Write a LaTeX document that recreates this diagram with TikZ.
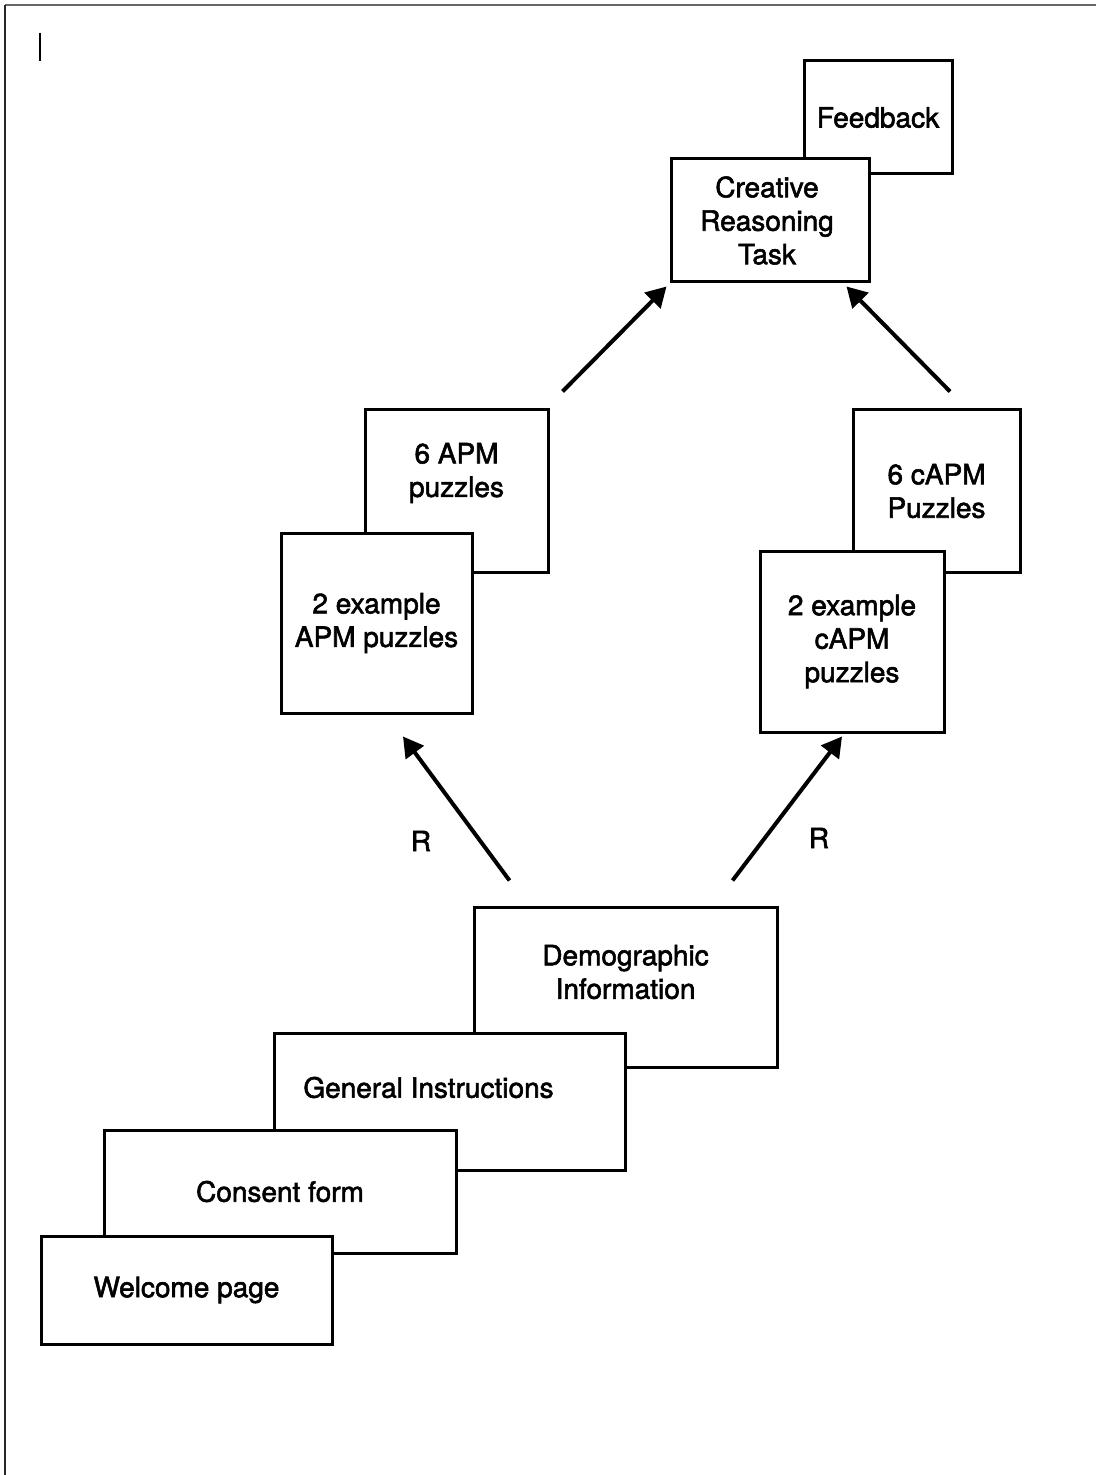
\documentclass[tikz,border=0pt]{standalone}
\usepackage{fontspec}
\setmainfont{TeX Gyre Heros}[FakeBold=2]
\usepackage{tikz}
\usetikzlibrary{arrows.meta, calc}

\begin{document}
\begin{tikzpicture}[
    x=0.5pt, y=-0.5pt,
    page/.style={draw, fill=white, rectangle, line width=1.5pt, inner sep=0pt, align=center, font=\fontsize{14}{16.75}\selectfont},
    caption/.style={rectangle, inner sep=0pt, align=center, font=\fontsize{14}{16.75}\selectfont},
    line/.style={draw, -{Triangle[length=10pt, width=11pt]}, line width=2pt}
]

    % Canvas and page edges
    \fill[white] (0,0) rectangle (1096,1475);
    \useasboundingbox (0,0) rectangle (1096,1475);
    \draw[black!60, line width=1pt] (5,5) -- (1096,5);
    \draw[black!85, line width=1pt] (5,1475) -- (5,5);
    \draw[line width=1pt] (39.5,33) -- (39.5,61);

    % Nodes
    \node[page, minimum width=74pt, minimum height=56.5pt] (feedback) at (878,117.5) {Feedback};
    \node[page, minimum width=99pt, minimum height=61.5pt] (creative) at (770,220.5) {};
    \node[caption] (creativeText) at ([xshift=-1.5pt]creative.center) {Creative\\Reasoning\\Task};

    \node[page, minimum width=91.5pt, minimum height=81pt] (sixAPM) at (456.5,491) {};
    \node[caption] (sixAPMText) at ([yshift=9pt]sixAPM.center) {6 APM\\puzzles};
    \node[page, minimum width=95.5pt, minimum height=90pt] (exAPM) at (376.5,623) {2 example\\APM puzzles};

    \node[page, minimum width=83.5pt, minimum height=81pt] (sixCAPM) at (936.5,491) {6 cAPM\\Puzzles};
    \node[page, minimum width=92pt, minimum height=90.5pt] (exCAPM) at (852,641.5) {2 example\\cAPM\\puzzles};

    \node[page, minimum width=151.5pt, minimum height=80pt] (demo) at (625.5,987) {};
    \node[caption] (demoText) at ([yshift=7.5pt]demo.center) {Demographic\\Information};
    \node[page, minimum width=175.5pt, minimum height=68.5pt] (general) at (449.5,1101.5) {};
    \node[caption] (generalText) at ([xshift=-10.5pt, yshift=7pt]general.center) {General Instructions};
    \node[page, minimum width=176pt, minimum height=61.5pt] (consent) at (280,1191.5) {Consent form};
    \node[page, minimum width=145.5pt, minimum height=54pt] (welcome) at (186.5,1290) {Welcome page};

    \node[caption] (rLeft) at (421,841) {R};
    \node[caption] (rRight) at (819,838) {R};

    % Connections
    \draw[line] ([shift={(13,-17)}]sixAPM.north east) -- ([shift={(-3,3)}]creative.south west);
    \draw[line] ([shift={(13.5,-17)}]sixCAPM.north) -- ([shift={(-24,3)}]creative.south east);
    \draw[line] ([shift={(37,-25)}]demo.north west) -- ([shift={(26.5,22)}]exAPM.south);
    \draw[line] ([shift={(-46,-25)}]demo.north east) -- ([shift={(-10,3)}]exCAPM.south);

\end{tikzpicture}
\end{document}
